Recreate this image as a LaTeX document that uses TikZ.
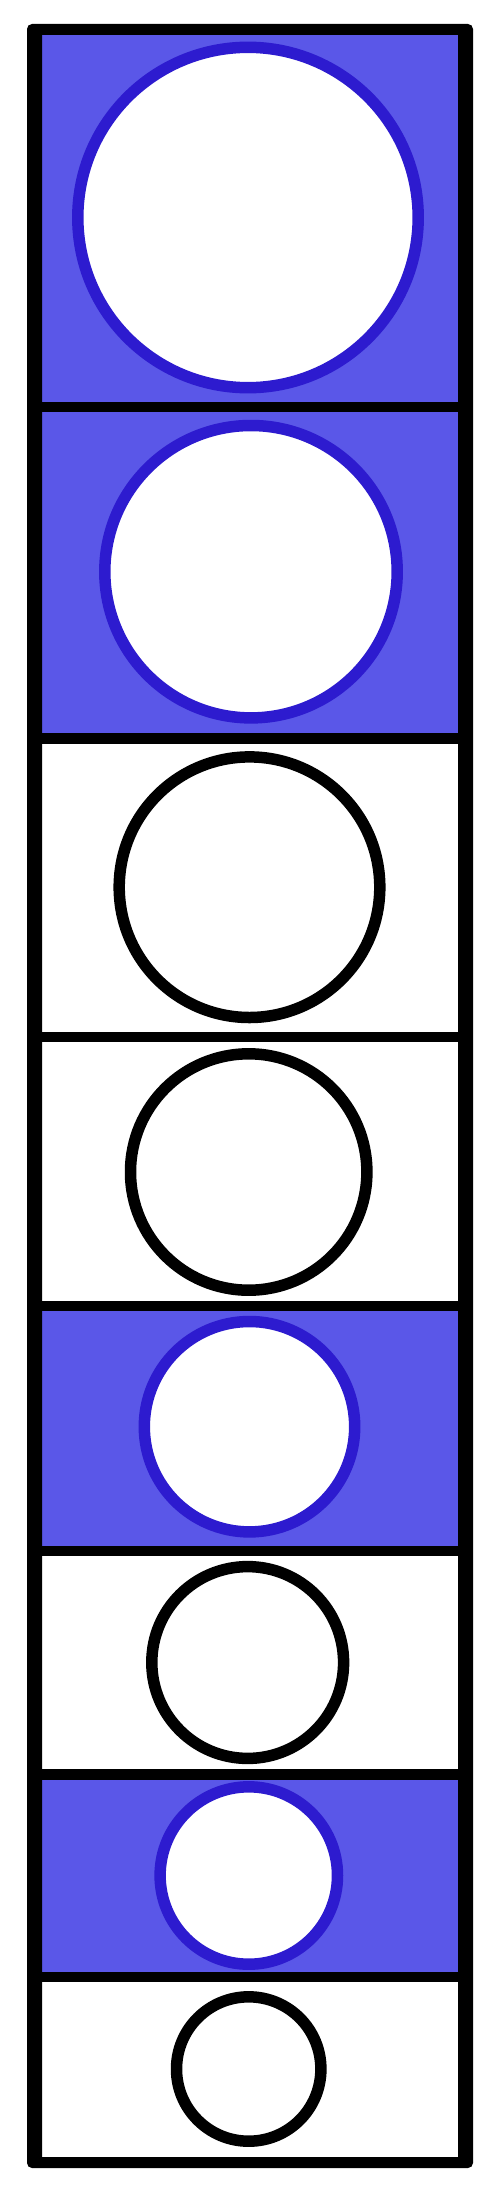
\documentclass[tikz,border=0pt]{standalone}
\definecolor{bandblue}{RGB}{90,87,232}
\definecolor{ringblue}{RGB}{45,27,207}
\tikzset{
  blueband/.style={fill=bandblue, draw=none},
  bluering/.style={draw=ringblue, fill=white, line width=11.5pt},
  blackring/.style={draw=black, fill=white, line width=11.5pt},
  divider/.style={fill=black, draw=none},
}
\begin{document}
\begin{tikzpicture}[x=1pt,y=-1pt]
\useasboundingbox (0,0) rectangle (500,2200);
% blue bands
\fill[blueband] (42,35) rectangle (458,407);
\fill[blueband] (42,407) rectangle (458,739);
\fill[blueband] (42,1306) rectangle (458,1551);
\fill[blueband] (42,1775) rectangle (458,1977);
% rings
\draw[bluering] (248,217.5) circle (170.2);
\draw[bluering] (251,571.7) circle (146.2);
\draw[blackring] (249.5,887.2) circle (130.3);
\draw[blackring] (248.7,1172) circle (118.2);
\draw[bluering] (249.5,1426.7) circle (105.2);
\draw[blackring] (247.7,1662.5) circle (95.9);
\draw[bluering] (248.8,1875.5) circle (88.7);
\draw[blackring] (248.7,2069) circle (72.2);
% dividers
\foreach \yy in {407,738.7,1037,1306,1551,1774.5,1977}
  \fill[divider] (42,\yy-5.4) rectangle (458,\yy+5.4);
% frame
\fill[black, even odd rule, rounded corners=5pt] (27,24) rectangle (473,2168)
  [sharp corners] (42,35) rectangle (458,2157);
\end{tikzpicture}
\end{document}
